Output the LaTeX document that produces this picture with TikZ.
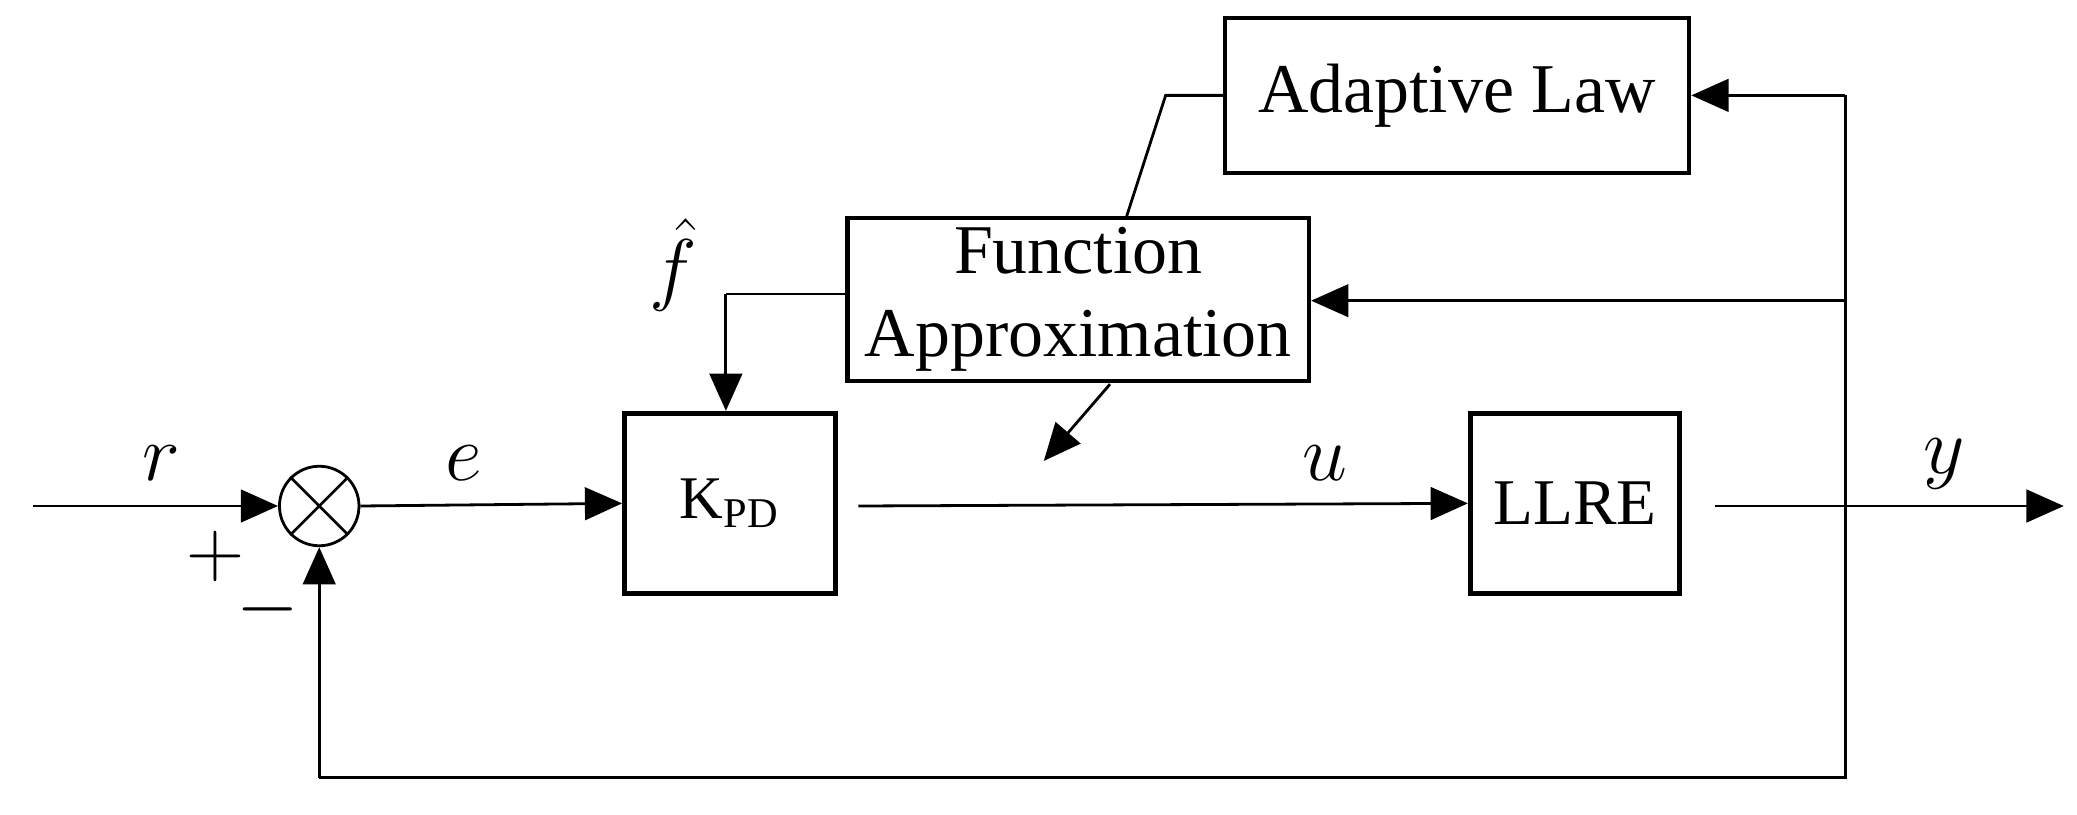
\documentclass[tikz,border=0pt]{standalone}
\usepackage{fontspec}
\setmainfont{Liberation Serif}
\usetikzlibrary{arrows.meta}
\begin{document}
\begin{tikzpicture}[x=0.01cm,y=-0.01cm,
  blk/.style={draw,line width=1pt,inner sep=0pt,font=\fontsize{15pt}{18pt}\selectfont,align=center},
  ln/.style={line width=0.6pt},
  ar/.style={ln,-{Triangle[length=8pt,width=7pt]}},
  lab/.style={font=\fontsize{17pt}{20pt}\selectfont}]
\useasboundingbox (0,0) rectangle (1568,615);
\node[blk,minimum width=3.5cm,minimum height=1.17cm] (al) at (1100,72) {Adaptive Law};
\node[blk,minimum width=3.48cm,minimum height=1.23cm] (fa) at (814,226) {Function\\Approximation};
\node[blk,minimum width=1.59cm,minimum height=1.36cm,font=\fontsize{13pt}{16pt}\selectfont] (kpd) at (551,380) {K\textsubscript{PD}};
\node[blk,minimum width=1.58cm,minimum height=1.36cm,font=\fontsize{14pt}{16pt}\selectfont] (llre) at (1189,380) {LLRE};
\node[draw,circle,ln,minimum size=0.6cm,inner sep=0pt] (s) at (241,382) {};
\draw[ln] (s.north east)--(s.south west) (s.north west)--(s.south east);
\coordinate (in) at (25,382);
\coordinate (uo) at (648,382);
\coordinate (yo) at (1295,382);
\coordinate (yend) at (1558,382);
\coordinate (fb1) at (1393,72);
\coordinate (fb2) at (1393,227);
\coordinate (fb3) at (1393,587);
\coordinate (fb4) at (241,587);
\coordinate (alk) at (880,72);
\coordinate (fat) at (850,165);
\coordinate (fl) at (548,222);
\coordinate (d1) at (838,290);
\coordinate (d2) at (788,348);
\draw[ar] (in)--(s.west);
\draw[ar] (s.east)--(kpd.west);
\draw[ar] (uo)--(llre.west);
\draw[ar] (yo)--(yend);
\draw[ln] (fb1)--(fb3)--(fb4);
\draw[ar] (fb4)--(s.south);
\draw[ar] (fb1)--(al.east);
\draw[ar] (fb2)--(fa.east|-fb2);
\draw[ln] (al.west)--(alk)--(fat);
\draw[ln] (fa.west|-fl)--(fl);
\draw[ar] (fl)--(fl|-kpd.north);
\draw[ar] (d1)--(d2);
\node[lab] at (122,350) {$r$};
\node[lab] at (350,350) {$e$};
\node[lab] at (1000,350) {$u$};
\node[lab] at (1468,350) {$y$};
\node[lab] at (508,200) {$\hat{f}$};
\node[lab] at (163,420) {$+$};
\node[lab] at (202,460) {$-$};
\end{tikzpicture}
\end{document}
